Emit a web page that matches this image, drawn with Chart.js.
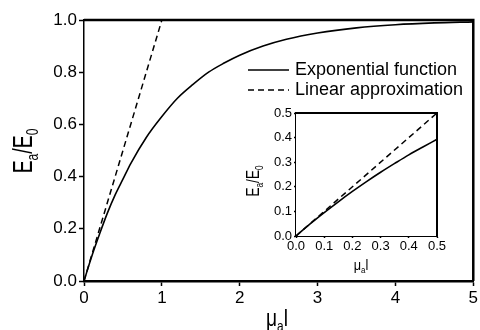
<!DOCTYPE html>
<html>
<head>
<meta charset="utf-8">
<title>Ea/E0 vs mu_a l</title>
<style>
  html, body { margin: 0; padding: 0; background: #fff; }
  #wrap { position: relative; width: 480px; height: 330px; overflow: hidden; }
  #mainChart { position: absolute; left: 0; top: 0; }
  #insetChart { position: absolute; left: 240px; top: 100px; }
</style>
</head>
<body>
<div id="wrap">
  <canvas id="mainChart" width="480" height="330"></canvas>
  <canvas id="insetChart" width="215" height="175"></canvas>
</div>

<script src="https://cdn.jsdelivr.net/npm/chart.js"></script>

<script>
    // main panel: 0..5
    const mainX = [0, 0.1, 0.2, 0.3, 0.4, 0.5, 0.6, 0.8, 1.0, 1.2, 1.4, 1.6, 1.8, 2.0, 2.3, 2.6, 3.0, 3.5, 4.0, 4.5, 5.0];
    const mainExp = [0, 0.095, 0.18, 0.26, 0.33, 0.39, 0.45, 0.55, 0.63, 0.70, 0.753, 0.80, 0.835, 0.865, 0.90, 0.926, 0.95, 0.97, 0.982, 0.989, 0.993];
    const mainLinX = [0, 1];
    const mainLinY = [0, 1];
    const mainXTicks = [0, 1, 2, 3, 4, 5];
    const mainYTicks = [0, 0.2, 0.4, 0.6, 0.8, 1.0];

    // inset: zoom on 0..0.5
    const insetX = [0, 0.05, 0.1, 0.15, 0.2, 0.25, 0.3, 0.35, 0.4, 0.45, 0.5];
    const insetExp = [0, 0.049, 0.095, 0.139, 0.181, 0.221, 0.259, 0.295, 0.33, 0.362, 0.393];
    const insetLinX = [0, 0.5];
    const insetLinY = [0, 0.5];
    const insetXTicks = [0, 0.1, 0.2, 0.3, 0.4, 0.5];
    const insetYTicks = [0, 0.1, 0.2, 0.3, 0.4, 0.5];

    const seriesLabels = ['Exponential function', 'Linear approximation'];
    const FONT = '"Liberation Sans", Arial, sans-serif';

    const pts = (xs, ys) => xs.map((x, i) => ({ x: x, y: ys[i] }));

    // draws text made of normal and subscript pieces, squeezed horizontally
    function drawSubText(ctx, parts, cx, cy, size, squeeze, angle) {
        ctx.save();
        ctx.translate(cx, cy);
        ctx.rotate(angle || 0);
        ctx.scale(squeeze, 1);
        ctx.fillStyle = '#000';
        ctx.textBaseline = 'alphabetic';
        let total = 0;
        parts.forEach(p => {
            ctx.font = (p[1] ? size * 0.62 : size) + 'px ' + FONT;
            total += ctx.measureText(p[0]).width;
        });
        let x = -total / 2;
        parts.forEach(p => {
            ctx.font = (p[1] ? size * 0.62 : size) + 'px ' + FONT;
            ctx.fillText(p[0], x, p[1] ? size * 0.22 : 0);
            x += ctx.measureText(p[0]).width;
        });
        ctx.restore();
    }

    const axisTitles = {
        id: 'axisTitles',
        afterDraw(chart, args, opts) {
            const ctx = chart.ctx;
            if (opts.x) drawSubText(ctx, opts.x.parts, opts.x.cx, opts.x.cy, opts.x.size, opts.x.squeeze, 0);
            if (opts.y) drawSubText(ctx, opts.y.parts, opts.y.cx, opts.y.cy, opts.y.size, opts.y.squeeze, -Math.PI / 2);
        }
    };

    // closed box around the plot area
    const frame = {
        id: 'frame',
        beforeDatasetsDraw(chart, args, opts) {
            const a = chart.chartArea, ctx = chart.ctx;
            ctx.save();
            if (opts.fill) {
                ctx.fillStyle = opts.fill;
                ctx.fillRect(a.left, a.top, a.right - a.left, a.bottom - a.top);
            }
            ctx.strokeStyle = '#000';
            ctx.lineWidth = opts.width;
            ctx.beginPath();
            ctx.moveTo(a.left, a.top);
            ctx.lineTo(a.right, a.top);
            ctx.lineTo(a.right, a.bottom);
            ctx.stroke();
            ctx.restore();
        }
    };

    const lineLegend = {
        id: 'lineLegend',
        afterDraw(chart, args, opts) {
            if (!opts.show) return;
            const ctx = chart.ctx;
            ctx.save();
            ctx.font = opts.size + 'px ' + FONT;
            ctx.textBaseline = 'middle';
            ctx.fillStyle = '#000';
            chart.data.datasets.forEach((ds, i) => {
                const y = opts.y + i * opts.rowGap;
                ctx.strokeStyle = ds.borderColor;
                ctx.lineWidth = ds.borderWidth;
                ctx.setLineDash(ds.borderDash || []);
                ctx.beginPath();
                ctx.moveTo(opts.x, y);
                ctx.lineTo(opts.x + opts.sample, y);
                ctx.stroke();
                ctx.setLineDash([]);
                ctx.fillText(ds.label, opts.x + opts.sample + opts.gap, y);
            });
            ctx.restore();
        }
    };

    function axis(min, max, tickList, size, decimals, fitKey, fitVal, borderW, tickLen, pad) {
        return {
            type: 'linear',
            min: min,
            max: max,
            afterBuildTicks: s => { s.ticks = tickList.map(v => ({ value: v })); },
            afterFit: s => { s[fitKey] = fitVal; },
            ticks: {
                color: '#000',
                font: { family: FONT, size: size },
                padding: pad,
                maxRotation: 0,
                autoSkip: false,
                callback: v => Number(v).toFixed(decimals)
            },
            grid: { drawOnChartArea: false, drawTicks: true, tickLength: tickLen, tickWidth: 1.5, color: '#000' },
            border: { display: true, color: '#000', width: borderW }
        };
    }

    function lineSets(xs, ys, lx, ly) {
        return [{
            label: seriesLabels[0],
            data: pts(xs, ys),
            showLine: true,
            borderColor: '#000',
            borderWidth: 1.6,
            pointRadius: 0,
            cubicInterpolationMode: 'monotone'
        }, {
            label: seriesLabels[1],
            data: pts(lx, ly),
            showLine: true,
            borderColor: '#000',
            borderWidth: 1.5,
            borderDash: [6, 4],
            pointRadius: 0
        }];
    }

    new Chart(document.getElementById('mainChart'), {
        type: 'scatter',
        data: { datasets: lineSets(mainX, mainExp, mainLinX, mainLinY) },
        options: {
            responsive: false,
            animation: false,
            devicePixelRatio: 1,
            layout: { padding: { top: 20, right: 5, left: 0, bottom: 0 } },
            scales: {
                x: axis(0, 5, mainXTicks, 17, 0, 'height', 49, 2.5, 5, 2),
                y: axis(0, 1, mainYTicks, 17, 1, 'width', 84, 1.5, 5, 2)
            },
            plugins: {
                legend: { display: false },
                tooltip: { enabled: false },
                frame: { width: 2.5 },
                lineLegend: { show: true, x: 248, y: 70, rowGap: 20, sample: 41, gap: 6, size: 18 },
                axisTitles: {
                    x: { parts: [['\u03bc', false], ['a', true], ['l', false]], cx: 277, cy: 326, size: 24, squeeze: 0.8 },
                    y: { parts: [['E', false], ['a', true], ['/E', false], ['0', true]], cx: 32, cy: 151, size: 27, squeeze: 0.72 }
                }
            }
        },
        plugins: [frame, lineLegend, axisTitles]
    });

    new Chart(document.getElementById('insetChart'), {
        type: 'scatter',
        data: { datasets: lineSets(insetX, insetExp, insetLinX, insetLinY) },
        options: {
            responsive: false,
            animation: false,
            devicePixelRatio: 1,
            layout: { padding: { top: 13, right: 18, left: 0, bottom: 0 } },
            scales: {
                x: axis(0, 0.5, insetXTicks, 13, 1, 'height', 39, 2, 2, 1),
                y: axis(0, 0.5, insetYTicks, 13, 1, 'width', 56, 2, 2, 2)
            },
            plugins: {
                legend: { display: false },
                tooltip: { enabled: false },
                frame: { width: 2, fill: '#fff' },
                lineLegend: { show: false },
                axisTitles: {
                    x: { parts: [['\u03bc', false], ['a', true], ['l', false]], cx: 121, cy: 170, size: 15, squeeze: 0.85 },
                    y: { parts: [['E', false], ['a', true], ['/E', false], ['0', true]], cx: 19, cy: 81, size: 18, squeeze: 0.75 }
                }
            }
        },
        plugins: [frame, lineLegend, axisTitles]
    });
</script>
</body>
</html>
